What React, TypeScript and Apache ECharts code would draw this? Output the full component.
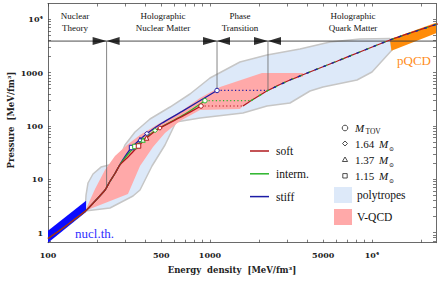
import React, { useEffect, useRef } from 'react';
import * as echarts from 'echarts';

// ---- data (energy density [MeV/fm^3], pressure [MeV/fm^3]) ----
const commonCurve = [[100, 0.77], [119, 1.11], [147, 1.79], [172, 2.59], [198, 4.07], [225, 6.27], [241, 9.05], [259, 12.8]];
const stiffCurve = [[285, 21.3], [328, 39.3], [370, 55.6], [408, 72.0], [503, 112], [669, 185], [1105, 462]];
const intermCurve = [[282, 20.1], [344, 41.1], [386, 54.4], [458, 82.0], [701, 167], [931, 297]];
const softCurve = [[278, 18.5], [313, 26.4], [362, 42.0], [406, 59.3], [491, 91.3], [669, 149], [880, 236]];
const quarkCurve = [[1598, 236], [1791, 297], [2280, 462], [3117, 726], [6344, 1723], [12915, 4089], [24840, 7988], [30000, 9700]];

// markers, order: M_TOV, 1.64, 1.37, 1.15 Msun
const markerKinds = ['M_TOV', '1.64', '1.37', '1.15'];
const stiffMarkers = [[1105, 462], [408, 72.0], [370, 55.6], [328, 39.3]];
const intermMarkers = [[931, 297], [458, 82.0], [386, 54.4], [344, 41.1]];
const softMarkers = [[880, 236], [491, 91.3], [406, 59.3], [362, 42.0]];

const polytropeBand = [
  [169.2, 2.53], [171.7, 5.05], [176.6, 8.49], [189.6, 12.52], [212.4, 16.9], [251.9, 19.3], [274.4, 23.9],
  [298.8, 43.8], [344.4, 76.8], [426.2, 134.7], [566.5, 226.2], [752.3, 396.7], [1000, 792], [1531, 1581],
  [2248, 2139], [3594, 2773], [5505, 3751], [8433, 4270], [12915, 4363], [13290, 2655], [10000, 1026],
  [8080, 726.4], [4983, 536.8], [4143, 451.6], [3117, 268.9], [2248, 236.3], [1598, 174.6], [867.7, 140.7],
  [616.8, 118.3], [527.5, 43.8], [438.5, 17.7], [369.8, 6.27], [334.7, 4.84], [241.3, 2.88],
];
const vqcdBand = [
  [171.7, 2.76], [195.1, 6.55], [224.8, 14.88], [259.1, 27.25], [307.4, 43.8], [369.8, 67.5], [491.3, 113.3],
  [652.9, 182.3], [867.7, 333.8], [1153, 536.8], [2094, 983], [3751, 983], [3751, 845], [3117, 726],
  [2280, 462], [1791, 297], [1598, 236], [1531, 207.6], [867.7, 198.8], [652.9, 123.6], [527.5, 73.6],
  [444.8, 40.2], [369.8, 17.7], [311.7, 5.28], [171.7, 2.59],
];
const nuclTheoryBand = [[100, 1.081], [171.7, 3.95], [171.7, 2.424], [100, 0.644]];
const pqcdBand = [[12915, 4215], [24840, 8636], [24840, 5462], [13195, 2576]];

const dividerP = 3900;
const verticalLines = [[230, 7.0], [1105, 462], [2280, 462]];

const xTickValues = [100, 500, 1000, 5000, 10000];
const xTickLabels = ['100', '500', '1000', '5000', '10⁴'];
const yTickValues = [1, 10, 100, 1000, 10000];
const yTickLabels = ['1', '10', '100', '1000', '10⁴'];

const regionLabels = ['Nuclear\nTheory', 'Holographic\nNuclear Matter', 'Phase\nTransition', 'Holographic\nQuark Matter'];
const curveNames = ['soft', 'interm.', 'stiff'];

// ---- helpers ----
const L = (v: number) => Math.log10(v);
const toXY = (pts: number[][]) => pts.map(([e, p]) => [L(e), L(p)]);
const X_MIN = 2, X_MAX = L(24840);
const Y_MIN = L(0.644), Y_MAX = L(19780);

const minorTicks = (lo: number, hi: number) => {
  const out: number[] = [];
  for (let d = -1; d <= 5; d++) for (let m = 1; m <= 9; m++) {
    const v = d + Math.log10(m);
    if (v >= lo - 1e-9 && v <= hi + 1e-9) out.push(v);
  }
  return out;
};

const C_SOFT = '#b01a1e';
const C_INTERM = '#2bb52b';
const C_STIFF = '#1c1ca6';
const SERIF = '"Liberation Serif", "DejaVu Serif", serif';
const AXFONT = '"DejaVu Serif", serif';

const polySeries = (pts: number[][], fill: string, z: number, stroke?: string, lw?: number) => ({
  type: 'custom', coordinateSystem: 'cartesian2d', z, silent: true, clip: true,
  data: [[3, 1]],
  renderItem: (_p: any, api: any) => ({
    type: 'polygon',
    shape: { points: pts.map(([e, p]) => api.coord([L(e), L(p)])) },
    style: { fill, stroke: stroke || null, lineWidth: lw || 0, lineJoin: 'round' },
  }),
});

const lineSeries = (pts: number[][], color: string, width: number, z: number, type: any = 'solid', smooth: any = 0.2, dashOffset = 0) => ({
  type: 'line', data: toXY(pts), symbol: 'none', smooth, z, silent: true,
  lineStyle: { color, width, type, dashOffset, cap: 'butt' },
});

const markerSymbols: Record<string, string> = { 'M_TOV': 'circle', '1.64': 'diamond', '1.37': 'triangle', '1.15': 'rect' };
const markerSeries = (pts: number[][], color: string) => ({
  type: 'scatter', z: 6, silent: true,
  data: pts.map((p, i) => ({ value: [L(p[0]), L(p[1])], symbol: markerSymbols[markerKinds[i]] })),
  symbolSize: 4.5,
  itemStyle: { color: '#fff', borderColor: color, borderWidth: 1, opacity: 1 },
});

const fmt = (vals: number[], labels: string[]) => (v: number) => {
  const i = vals.findIndex((x) => Math.abs(L(x) - v) < 1e-6);
  return i >= 0 ? labels[i] : '';
};

const axisCommon = {
  type: 'value' as const,
  splitLine: { show: false },
  axisLine: { show: true, onZero: false, lineStyle: { color: '#444', width: 0.8 } },
};

const xTicks = minorTicks(X_MIN, X_MAX);
const yTicks = minorTicks(Y_MIN, Y_MAX);

const option: any = {
  animation: false,
  backgroundColor: '#fff',
  grid: { left: 48, right: 5, top: 3.5, bottom: 40.3 },
  xAxis: [
    {
      ...axisCommon, min: X_MIN, max: X_MAX, position: 'bottom',
      axisTick: { show: true, inside: true, length: 3, customValues: xTicks, lineStyle: { color: '#444', width: 0.7 } },
      axisLabel: {
        show: true, customValues: xTickValues.map(L), formatter: fmt(xTickValues, xTickLabels),
        fontFamily: AXFONT, fontWeight: 'bold', fontSize: 8, color: '#222', margin: 8,
      },
    },
    {
      ...axisCommon, min: X_MIN, max: X_MAX, position: 'top',
      axisTick: { show: true, inside: true, length: 3, customValues: xTicks, lineStyle: { color: '#444', width: 0.7 } },
      axisLabel: { show: false },
    },
  ],
  yAxis: [
    {
      ...axisCommon, min: Y_MIN, max: Y_MAX, position: 'left',
      axisTick: { show: true, inside: true, length: 3, customValues: yTicks, lineStyle: { color: '#444', width: 0.7 } },
      axisLabel: {
        show: true, customValues: yTickValues.map(L), formatter: fmt(yTickValues, yTickLabels),
        fontFamily: AXFONT, fontWeight: 'bold', fontSize: 8, color: '#222', margin: 5,
      },
    },
    {
      ...axisCommon, min: Y_MIN, max: Y_MAX, position: 'right',
      axisTick: { show: true, inside: true, length: 3, customValues: yTicks, lineStyle: { color: '#444', width: 0.7 } },
      axisLabel: { show: false },
    },
  ],
  series: [
    polySeries(polytropeBand, '#dde9f9', 1, '#c6c6c6', 1.5),
    polySeries(vqcdBand, '#ffa9a9', 2),
    polySeries(nuclTheoryBand, '#0a0aff', 2),
    polySeries(pqcdBand, '#ff8c0a', 2),
    lineSeries([[100, dividerP], [24840, dividerP]], '#3a3a3a', 0.9, 3, 'solid', false),
    ...verticalLines.map((v) => lineSeries([v, [v[0], dividerP]], '#666', 0.8, 3, 'solid', false)),
    lineSeries(commonCurve.concat(stiffCurve), C_STIFF, 1.3, 4),
    lineSeries(commonCurve.concat(intermCurve), C_INTERM, 1.3, 4),
    lineSeries(commonCurve.concat(softCurve), C_SOFT, 1.3, 4),
    lineSeries([stiffCurve[stiffCurve.length - 1], quarkCurve[2]], C_STIFF, 1.2, 4, [1.2, 2.4], false),
    lineSeries([intermCurve[intermCurve.length - 1], quarkCurve[1]], C_INTERM, 1.2, 4, [1.2, 2.4], false),
    lineSeries([softCurve[softCurve.length - 1], quarkCurve[0]], C_SOFT, 1.2, 4, [1.2, 2.4], false),
    lineSeries(quarkCurve.slice(0), C_SOFT, 1.3, 4, 'solid', 0.15),
    lineSeries(quarkCurve.slice(1), C_INTERM, 1.3, 4, [3, 6], 0.15, 0),
    lineSeries(quarkCurve.slice(2), C_STIFF, 1.3, 4, [3, 6], 0.15, 3),
    markerSeries(stiffMarkers, C_STIFF),
    markerSeries(intermMarkers, C_INTERM),
    markerSeries(softMarkers, C_SOFT),
    {
      type: 'scatter', z: 7, silent: true, symbol: 'triangle', symbolSize: [8, 14], symbolRotate: -90,
      symbolOffset: [-7, 0], itemStyle: { color: '#000' },
      data: verticalLines.map((v) => [L(v[0]), L(dividerP)]),
    },
    {
      type: 'scatter', z: 7, silent: true, symbol: 'triangle', symbolSize: [8, 13], symbolRotate: 90,
      symbolOffset: [6.5, 0], itemStyle: { color: '#000' },
      data: verticalLines.map((v) => [L(v[0]), L(dividerP)]),
    },
  ],
  graphic: [
    // region labels
    ...[75, 163, 240, 353].map((cx, i) => ({
      type: 'text', x: cx, y: 22, z: 10, silent: true,
      style: { text: regionLabels[i], font: `9px ${SERIF}`, fill: '#111', align: 'center', verticalAlign: 'middle', textAlign: 'center', textVerticalAlign: 'middle', lineHeight: 12 },
    })),
    // axis titles
    {
      type: 'text', x: 232, y: 270, silent: true,
      style: { text: 'Energy  density  [MeV/fm³]', font: `bold 8.5px ${AXFONT}`, fill: '#222', align: 'center', verticalAlign: 'middle', textAlign: 'center', textVerticalAlign: 'middle' },
    },
    {
      type: 'text', x: 11, y: 120, rotation: Math.PI / 2, silent: true,
      style: { text: 'Pressure  [MeV/fm³]', font: `bold 8.5px ${AXFONT}`, fill: '#222', align: 'center', verticalAlign: 'middle', textAlign: 'center', textVerticalAlign: 'middle' },
    },
    // band labels
    { type: 'text', x: 75, y: 233, silent: true, style: { text: 'nucl.th.', font: `13px ${SERIF}`, fill: '#3030ff', verticalAlign: 'middle', textVerticalAlign: 'middle' } },
    { type: 'text', x: 397, y: 60, silent: true, style: { text: 'pQCD', font: `13px ${SERIF}`, fill: '#ff8c1a', verticalAlign: 'middle', textVerticalAlign: 'middle' } },
    // curve legend
    ...[C_SOFT, C_INTERM, C_STIFF].flatMap((c, i) => {
      const y = 151 + i * 22.8;
      return [
        { type: 'line', silent: true, shape: { x1: 250, y1: y, x2: 269, y2: y }, style: { stroke: c, lineWidth: 1.5 } },
        { type: 'text', x: 276, y, silent: true, style: { text: curveNames[i], font: `11.5px ${SERIF}`, fill: '#111', verticalAlign: 'middle', textVerticalAlign: 'middle' } },
      ];
    }),
    // marker legend
    { type: 'circle', silent: true, shape: { cx: 345, cy: 128, r: 2.8 }, style: { fill: '#fff', stroke: '#222', lineWidth: 0.8 } },
    { type: 'polygon', silent: true, shape: { points: [[345, 141], [347.5, 143.5], [345, 146], [342.5, 143.5]] }, style: { fill: '#fff', stroke: '#222', lineWidth: 0.8 } },
    { type: 'polygon', silent: true, shape: { points: [[345, 157], [347.6, 161.5], [342.4, 161.5]] }, style: { fill: '#fff', stroke: '#222', lineWidth: 0.8 } },
    { type: 'rect', silent: true, shape: { x: 342.8, y: 173.6, width: 4.4, height: 4.4 }, style: { fill: '#fff', stroke: '#222', lineWidth: 0.8 } },
    { type: 'text', x: 355, y: 128, silent: true, style: { text: 'M', font: `italic 11px ${SERIF}`, fill: '#111', verticalAlign: 'middle', textVerticalAlign: 'middle' } },
    { type: 'text', x: 365.5, y: 131.5, silent: true, style: { text: 'TOV', font: `7.5px ${SERIF}`, fill: '#111', verticalAlign: 'middle', textVerticalAlign: 'middle' } },
    ...['1.64', '1.37', '1.15'].flatMap((t, i) => {
      const y = 143.5 + i * 16;
      return [
        { type: 'text', x: 355, y, silent: true, style: { text: t, font: `11px ${SERIF}`, fill: '#111', verticalAlign: 'middle', textVerticalAlign: 'middle' } },
        { type: 'text', x: 379, y, silent: true, style: { text: 'M', font: `italic 11px ${SERIF}`, fill: '#111', verticalAlign: 'middle', textVerticalAlign: 'middle' } },
        { type: 'text', x: 389, y: y + 4.5, silent: true, style: { text: '⊙', font: `6px ${AXFONT}`, fill: '#111', verticalAlign: 'middle', textVerticalAlign: 'middle' } },
      ];
    }),
    // band legend
    { type: 'rect', silent: true, shape: { x: 334, y: 187, width: 18, height: 16 }, style: { fill: '#dde9f9' } },
    { type: 'text', x: 357, y: 195, silent: true, style: { text: 'polytropes', font: `11.5px ${SERIF}`, fill: '#111', verticalAlign: 'middle', textVerticalAlign: 'middle' } },
    { type: 'rect', silent: true, shape: { x: 334, y: 209, width: 18, height: 16 }, style: { fill: '#ffa9a9' } },
    { type: 'text', x: 357, y: 217, silent: true, style: { text: 'V-QCD', font: `11.5px ${SERIF}`, fill: '#111', verticalAlign: 'middle', textVerticalAlign: 'middle' } },
  ],
};

export default function App() {
  const ref = useRef<HTMLDivElement>(null);
  useEffect(() => {
    const chart = echarts.init(ref.current!, null, { renderer: 'svg' });
    chart.setOption(option);
    return () => chart.dispose();
  }, []);
  return <div ref={ref} style={{ position: 'fixed', left: 0, top: 0, width: 441, height: 283, background: '#fff' }} />;
}
